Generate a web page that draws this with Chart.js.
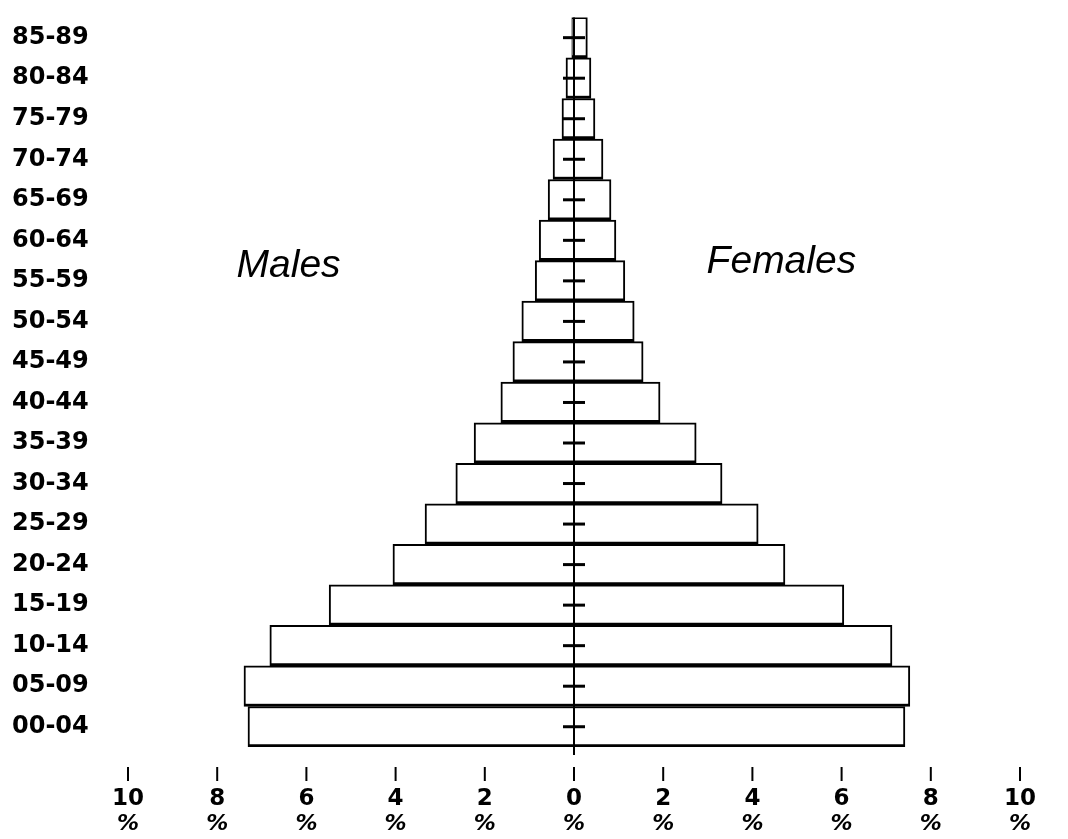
<!DOCTYPE html>
<html lang="en">
<head>
    <meta charset="UTF-8">
    <title>Population pyramid</title>
    <script src="https://cdn.jsdelivr.net/npm/chart.js"></script>
    <style>
        html, body { margin: 0; padding: 0; background: #fff; }
        #wrap { width: 1068px; height: 839px; }
    </style>
</head>
<body>
    <div id="wrap"><canvas id="myChart" width="1068" height="839"></canvas></div>

    <script>
        // age groups, bottom row first
        const ageGroups = ['00-04', '05-09', '10-14', '15-19', '20-24', '25-29', '30-34', '35-39', '40-44',
                           '45-49', '50-54', '55-59', '60-64', '65-69', '70-74', '75-79', '80-84', '85-89'];
        // percent of population
        const males   = [7.31, 7.40, 6.82, 5.49, 4.06, 3.34, 2.65, 2.24, 1.64, 1.37, 1.17, 0.87, 0.78, 0.58, 0.47, 0.27, 0.18, 0.05];
        const females = [7.42, 7.53, 7.13, 6.05, 4.73, 4.13, 3.32, 2.74, 1.93, 1.55, 1.35, 1.14, 0.94, 0.83, 0.65, 0.47, 0.38, 0.30];
        const xTicks = [-10, -8, -6, -4, -2, 0, 2, 4, 6, 8, 10];
        const sideLabels = ['Males', 'Females'];

        const ink = '#000';

        // center line, row dashes, axis tick marks, % signs and the two side labels
        const decor = {
            id: 'decor',
            afterDatasetsDraw(chart) {
                const ctx = chart.ctx;
                const x = chart.scales.x, y = chart.scales.y;
                const x0 = x.getPixelForValue(0);
                const bottom = chart.chartArea.bottom;
                ctx.save();
                ctx.strokeStyle = ink;
                ctx.lineWidth = 2;
                ctx.beginPath();
                ctx.moveTo(x0, chart.chartArea.top);
                ctx.lineTo(x0, bottom + 8);
                ctx.stroke();

                ctx.lineWidth = 3;
                ageGroups.forEach((g, i) => {
                    const py = y.getPixelForValue(i);
                    ctx.beginPath();
                    ctx.moveTo(x0 - 11, py);
                    ctx.lineTo(x0 + 11, py);
                    ctx.stroke();
                });

                ctx.lineWidth = 2;
                ctx.fillStyle = ink;
                ctx.font = 'italic bold 22px "DejaVu Sans"';
                ctx.textAlign = 'center';
                ctx.textBaseline = 'middle';
                xTicks.forEach(v => {
                    const px = x.getPixelForValue(v);
                    ctx.beginPath();
                    ctx.moveTo(px, bottom + 20);
                    ctx.lineTo(px, bottom + 34);
                    ctx.stroke();
                    ctx.fillText('%', px, bottom + 77);
                });

                ctx.font = 'italic 39px "Liberation Sans"';
                const ly = (y.getPixelForValue(11) + y.getPixelForValue(12)) / 2;
                ctx.fillText(sideLabels[0], x.getPixelForValue(-6.4), ly + 6);
                ctx.fillText(sideLabels[1], x.getPixelForValue(4.65), ly + 2);
                ctx.restore();
            }
        };

        const barStyle = {
            backgroundColor: '#fff',
            borderColor: ink,
            borderWidth: { top: 2, bottom: 3, left: 2, right: 2 },
            borderSkipped: 'start',
            barPercentage: 1,
            categoryPercentage: 1
        };

        const ctx = document.getElementById('myChart').getContext('2d');
        const chart = new Chart(ctx, {
            type: 'bar',
            data: {
                labels: ageGroups,
                datasets: [
                    Object.assign({ label: sideLabels[0], data: males.map(v => -v) }, barStyle),
                    Object.assign({ label: sideLabels[1], data: females }, barStyle)
                ]
            },
            options: {
                indexAxis: 'y',
                responsive: false,
                animation: false,
                layout: { padding: { left: 12, top: 13, right: 48, bottom: 0 } },
                plugins: { legend: { display: false }, tooltip: { enabled: false } },
                scales: {
                    x: {
                        type: 'linear',
                        min: -10,
                        max: 10,
                        stacked: true,
                        grid: { display: false, drawTicks: false },
                        border: { display: false },
                        afterFit(scale) {
                            scale.height = 92;
                            scale.paddingLeft = 0;
                            scale.paddingRight = 0;
                        },
                        afterBuildTicks(scale) { scale.ticks = xTicks.map(v => ({ value: v })); },
                        ticks: {
                            autoSkip: false,
                            maxRotation: 0,
                            padding: 38,
                            color: ink,
                            font: { family: '"DejaVu Sans"', size: 23, weight: 'bold' },
                            callback: v => String(Math.abs(v))
                        }
                    },
                    y: {
                        stacked: true,
                        reverse: true,
                        grid: { display: false, drawTicks: false },
                        border: { display: false },
                        afterFit(scale) { scale.width = 116; },
                        ticks: {
                            crossAlign: 'far',
                            color: ink,
                            font: { family: '"DejaVu Sans"', size: 24, weight: 'bold' }
                        }
                    }
                }
            },
            plugins: [decor]
        });
    </script>
</body>
</html>
